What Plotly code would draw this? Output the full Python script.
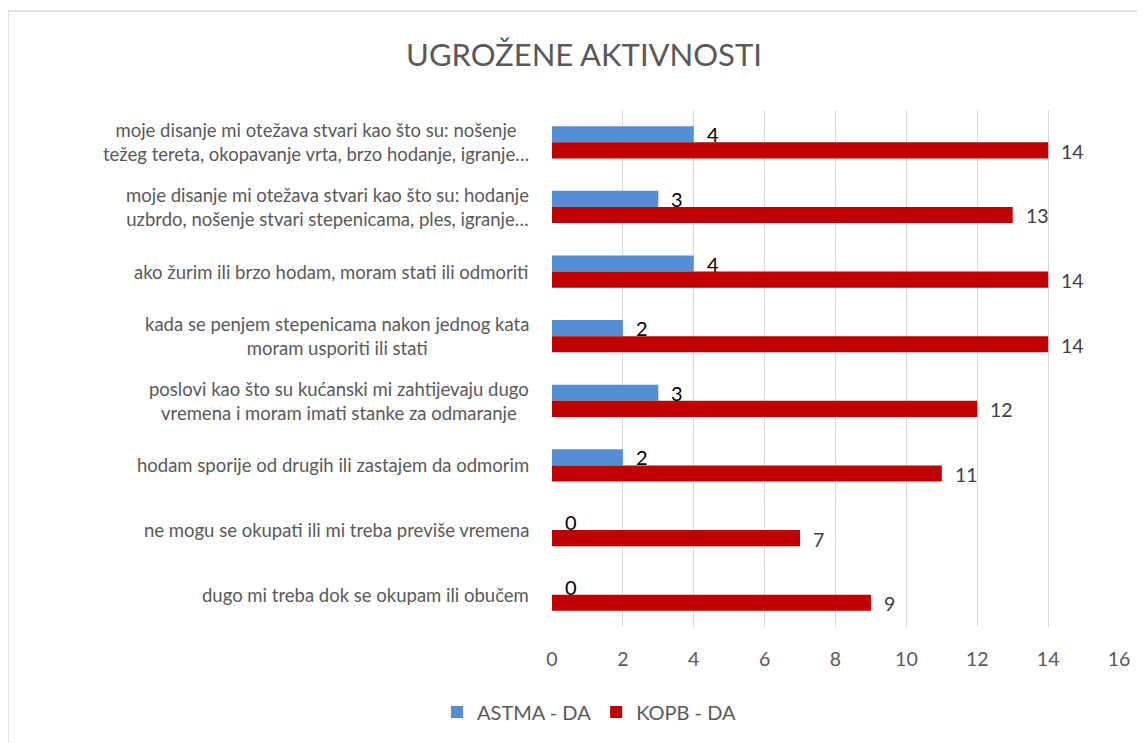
import plotly.graph_objects as go

# ---- data ----
categories = [
    "moje disanje mi otežava stvari kao što su: nošenje<br>težeg tereta, okopavanje vrta, brzo hodanje, igranje…",
    "moje disanje mi otežava stvari kao što su: hodanje<br>uzbrdo, nošenje stvari stepenicama, ples, igranje…",
    "ako žurim ili brzo hodam, moram stati ili odmoriti",
    "kada se penjem stepenicama nakon jednog kata<br>moram usporiti ili stati",
    "poslovi kao što su kućanski mi zahtijevaju dugo<br>vremena i moram imati stanke za odmaranje",
    "hodam sporije od drugih ili zastajem da odmorim",
    "ne mogu se okupati ili mi treba previše vremena",
    "dugo mi treba dok se okupam ili obučem",
]
astma_da = [4, 3, 4, 2, 3, 2, 0, 0]
kopb_da = [14, 13, 14, 14, 12, 11, 7, 9]
series_names = ["ASTMA - DA", "KOPB - DA"]
title_text = "UGROŽENE AKTIVNOSTI"
x_ticks = [0, 2, 4, 6, 8, 10, 12, 14, 16]

# ---- layout constants (page has an 8px body margin) ----
OFF = 8
W, H = 1145 - OFF, 743 - OFF
ML, MR, MT, MB = 552 - OFF, 26, 110 - OFF, 116
PW = W - ML - MR
PH = H - MT - MB
FONT = "Lato, 'Open Sans', sans-serif"
GREY = "#595959"


def px_to_paper_x(px):
    return (px - OFF - ML) / PW


def px_to_paper_y(py):
    return (H - MB - (py - OFF)) / PH


fig = go.Figure()
fig.add_trace(go.Bar(
    y=categories, x=astma_da, name=series_names[0], orientation="h",
    marker=dict(color="#558ED5", line=dict(width=0)),
))
fig.add_trace(go.Bar(
    y=categories, x=kopb_da, name=series_names[1], orientation="h",
    marker=dict(color="#C00000", line=dict(width=0)),
))

annotations = []
for cat in categories:
    annotations.append(dict(
        xref="paper", x=0, xshift=-21, xanchor="right",
        yref="y", y=cat, yanchor="middle",
        text=cat, align="center", showarrow=False,
        font=dict(family=FONT, size=18.5, color=GREY),
    ))
for cat, v in zip(categories, astma_da):
    annotations.append(dict(
        xref="x", x=v, xshift=11, xanchor="left",
        yref="y", y=cat, yshift=8, yanchor="middle",
        text=str(v), showarrow=False,
        font=dict(family=FONT, size=20, color="#000000"),
    ))
for cat, v in zip(categories, kopb_da):
    annotations.append(dict(
        xref="x", x=v, xshift=11, xanchor="left",
        yref="y", y=cat, yshift=-9, yanchor="middle",
        text=str(v), showarrow=False,
        font=dict(family=FONT, size=19.5, color="#404040"),
    ))

fig.update_layout(
    width=W, height=H,
    margin=dict(l=ML, r=MR, t=MT, b=MB),
    paper_bgcolor="white", plot_bgcolor="white",
    barmode="group", bargap=0.5, bargroupgap=0,
    title=dict(text=title_text, x=px_to_paper_x(584), xref="paper", xanchor="center",
               y=1 - (55 - OFF) / H, yanchor="middle",
               font=dict(family=FONT, size=31, color=GREY)),
    font=dict(family=FONT, color=GREY),
    xaxis=dict(range=[0, 16], tickvals=x_ticks, showgrid=True, gridcolor="#D9D9D9",
               gridwidth=1, zeroline=False, showline=False,
               ticks="outside", ticklen=15, tickcolor="rgba(0,0,0,0)",
               tickfont=dict(family=FONT, size=19.5, color=GREY)),
    yaxis=dict(autorange="reversed", showticklabels=False, showgrid=False,
               zeroline=False, showline=False),
    legend=dict(orientation="h", x=px_to_paper_x(589), xanchor="center",
                y=px_to_paper_y(712), yanchor="middle",
                font=dict(family=FONT, size=20, color=GREY),
                itemwidth=30, traceorder="normal"),
    annotations=annotations,
    shapes=[dict(type="rect", xref="paper", yref="paper",
                 x0=px_to_paper_x(8), x1=px_to_paper_x(1170),
                 y0=px_to_paper_y(770), y1=px_to_paper_y(11),
                 line=dict(color="#D9D9D9", width=1.5), fillcolor="rgba(0,0,0,0)",
                 layer="below")],
)

fig.write_html("out.html")
